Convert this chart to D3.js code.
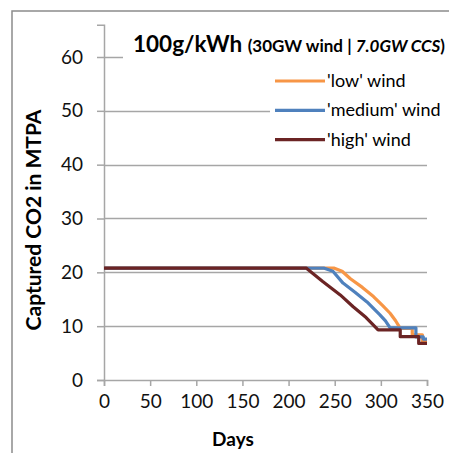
<!DOCTYPE html>
<html>
<head>
<meta charset="utf-8">
<script src="https://cdn.jsdelivr.net/npm/d3@7/dist/d3.min.js"></script>
<style>
  html, body { margin: 0; padding: 0; background: #fff; }
  svg { display: block; font-family: Lato, "Open Sans", sans-serif; }
</style>
</head>
<body>
<svg id="chart" width="449" height="453"></svg>
<script>
// ---- data ----
const xTicks = [0, 50, 100, 150, 200, 250, 300, 350];
const yTicks = [0, 10, 20, 30, 40, 50, 60];
const seriesNames = ["'low' wind", "'medium' wind", "'high' wind"];
const seriesColors = ["#F79646", "#4F81BD", "#6B2424"];

const lowDays   = [0, 249, 258, 267, 280, 292, 302, 310, 316, 321, 334, 334, 345, 345, 350];
const lowVals   = [20.8, 20.8, 20.2, 18.8, 17.2, 15.5, 13.8, 12.4, 11.0, 9.6, 9.6, 8.4, 8.4, 7.3, 7.3];

const medDays   = [0, 238, 248, 259, 272, 285, 299, 305, 310, 338, 338, 346, 346, 350];
const medVals   = [20.8, 20.8, 20.2, 18.0, 16.3, 14.5, 12.1, 11.0, 9.7, 9.7, 8.0, 8.0, 7.6, 7.6];

const highDays  = [0, 219, 237, 256, 270, 284, 297, 321, 321, 341, 341, 350];
const highVals  = [20.8, 20.8, 18.3, 15.8, 13.6, 11.6, 9.3, 9.3, 8.05, 8.05, 6.8, 6.8];

const seriesDays = [lowDays, medDays, highDays];
const seriesVals = [lowVals, medVals, highVals];

// ---- drawing ----
const svg = d3.select("#chart");
const x = d3.scaleLinear().domain([0, 350]).range([104, 427]);
const y = d3.scaleLinear().domain([0, 66]).range([380, 24.7]);

// outer chart frame
svg.append("rect").attr("x", 12).attr("y", 11).attr("width", 460).attr("height", 470)
  .attr("fill", "none").attr("stroke", "#8c8c8c").attr("stroke-width", 1.5);

// gridlines
svg.append("g").selectAll("line").data(yTicks.filter(d => d > 0)).join("line")
  .attr("x1", x(0)).attr("x2", x(350))
  .attr("y1", d => Math.round(y(d)) + 0.5).attr("y2", d => Math.round(y(d)) + 0.5)
  .attr("stroke", "#a6a6a6").attr("stroke-width", 1.5);

// y axis
const yAxis = svg.append("g").attr("transform", `translate(${x(0)},0)`)
  .call(d3.axisLeft(y).tickValues(yTicks).tickSize(7).tickPadding(14).tickFormat(d3.format("d")));
yAxis.select(".domain").attr("stroke", "#a6a6a6").attr("stroke-width", 1.5);
yAxis.selectAll(".tick line").attr("stroke", "#a6a6a6").attr("stroke-width", 1.5);
yAxis.selectAll("text").attr("font-size", 19).attr("fill", "#111").attr("font-family", "Lato");

// x axis
const xAxis = svg.append("g").attr("transform", `translate(0,${y(0)})`)
  .call(d3.axisBottom(x).tickValues(xTicks).tickSize(6).tickPadding(9).tickFormat(d3.format("d")));
xAxis.select(".domain").attr("stroke", "#a6a6a6").attr("stroke-width", 1.5);
xAxis.selectAll(".tick line").attr("stroke", "#a6a6a6").attr("stroke-width", 1.5);
xAxis.selectAll("text").attr("font-size", 19).attr("fill", "#111").attr("font-family", "Lato");

// series lines
const line = d3.line().x(d => x(d[0])).y(d => y(d[1]));
seriesDays.forEach((days, i) => {
  const pts = days.map((d, j) => [d, seriesVals[i][j]]);
  svg.append("path").datum(pts).attr("d", line)
    .attr("fill", "none").attr("stroke", seriesColors[i]).attr("stroke-width", 3.2)
    .attr("stroke-linejoin", "round");
});

// title box
svg.append("rect").attr("x", 123).attr("y", 28).attr("width", 330).attr("height", 36).attr("fill", "#fff");
const title = svg.append("text").attr("x", 133).attr("y", 52).attr("fill", "#000").attr("font-weight", "bold");
title.append("tspan").attr("font-size", 22.5).text("100g/kWh ");
title.append("tspan").attr("font-size", 17).text("(30GW wind | ");
title.append("tspan").attr("font-size", 17).attr("font-style", "italic").text("7.0GW CCS");
title.append("tspan").attr("font-size", 17).text(")");

// legend
svg.append("rect").attr("x", 270).attr("y", 66).attr("width", 180).attr("height", 88).attr("fill", "#fff");
const lg = svg.append("g").selectAll("g").data(seriesNames).join("g")
  .attr("transform", (d, i) => `translate(275,${81 + i * 29.3})`);
lg.append("line").attr("x1", 0).attr("x2", 50).attr("y1", 0).attr("y2", 0)
  .attr("stroke", (d, i) => seriesColors[i]).attr("stroke-width", 3.2);
lg.append("text").attr("x", 52).attr("y", 6).attr("font-size", 18).attr("fill", "#000").text(d => d);

// axis titles
svg.append("text").attr("x", 233).attr("y", 446).attr("text-anchor", "middle")
  .attr("font-weight", "bold").attr("font-size", 19).text("Days");
svg.append("text").attr("transform", "translate(41,220) rotate(-90)").attr("text-anchor", "middle")
  .attr("font-weight", "bold").attr("font-size", 21).text("Captured CO2 in MTPA");
</script>
</body>
</html>
